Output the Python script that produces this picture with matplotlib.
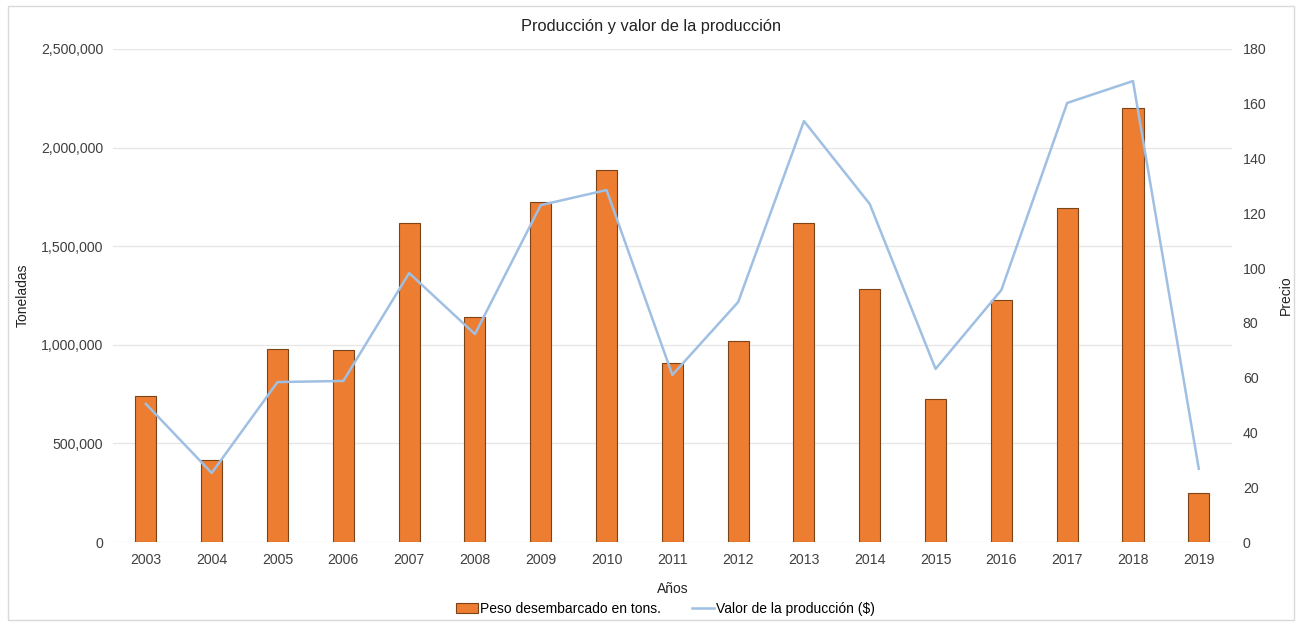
import numpy as np
import matplotlib.pyplot as plt
from matplotlib.ticker import FuncFormatter
from matplotlib.patches import Rectangle

plt.rcParams['font.family'] = ['Liberation Sans', 'DejaVu Sans']

years = ['2003', '2004', '2005', '2006', '2007', '2008', '2009', '2010', '2011',
         '2012', '2013', '2014', '2015', '2016', '2017', '2018', '2019']
toneladas = [740000, 416000, 979000, 974000, 1618000, 1141000, 1724000, 1886000, 908000,
             1019000, 1618000, 1283000, 725000, 1227000, 1694000, 2201000, 248000]
valor = [50.4, 25.2, 58.4, 58.8, 98.2, 75.9, 123.0, 128.5, 61.0,
         87.6, 153.7, 123.4, 63.2, 92.0, 160.3, 168.3, 26.7]

fig = plt.figure(figsize=(13.02, 6.25), dpi=100)
ax = fig.add_axes([0.0868, 0.1328, 0.8592, 0.7888])
ax2 = ax.twinx()

x = np.arange(len(years))
bars = ax.bar(x, toneladas, width=0.32, color='#ED7D31', edgecolor='#7a4418',
              linewidth=0.8, label='Peso desembarcado en tons.', zorder=2)
line, = ax2.plot(x, valor, color='#9fbfe3', linewidth=1.8,
                 label='Valor de la producción ($)', zorder=3)

ax.set_xlim(-0.5, len(years) - 0.5)
ax.set_ylim(0, 2500000)
ax.set_yticks(np.arange(0, 2500001, 500000))
ax.yaxis.set_major_formatter(FuncFormatter(lambda v, p: f'{int(v):,}'))
ax2.set_ylim(0, 180)
ax2.set_yticks(np.arange(0, 181, 20))

ax.set_xticks(x)
ax.set_xticklabels(years)
ax.grid(axis='y', color='#e6e6e6', linewidth=0.9, zorder=0)
ax.set_axisbelow(True)

for a in (ax, ax2):
    for s in a.spines.values():
        s.set_visible(False)
    a.tick_params(length=0, labelsize=10.2, colors='#404040')
ax.tick_params(axis='x', pad=8)
ax.tick_params(axis='y', pad=7)
ax2.tick_params(axis='y', pad=8)

ax.set_ylabel('Toneladas', fontsize=10, color='#222222')
ax2.set_ylabel('Precio', fontsize=10, color='#222222')
ax.yaxis.set_label_coords(-0.074, 0.5)
ax2.yaxis.set_label_coords(1.042, 0.5)
ax.set_xlabel('Años', fontsize=10, color='#222222', labelpad=11)

fig.text(0.5, 0.958, 'Producción y valor de la producción', ha='center', va='center',
         fontsize=11.8, color='#222222')

fig.legend(handles=[bars, line], loc='center', bbox_to_anchor=(0.511, 0.026), ncol=2,
           frameon=False, fontsize=10, handlelength=1.6, handleheight=0.7,
           columnspacing=2.2, handletextpad=0.15)

fig.patches.append(Rectangle((0.006, 0.008), 0.988, 0.982, transform=fig.transFigure,
                             fill=False, edgecolor='#d9d9d9', linewidth=1))

fig.savefig('out.png', dpi=100)
